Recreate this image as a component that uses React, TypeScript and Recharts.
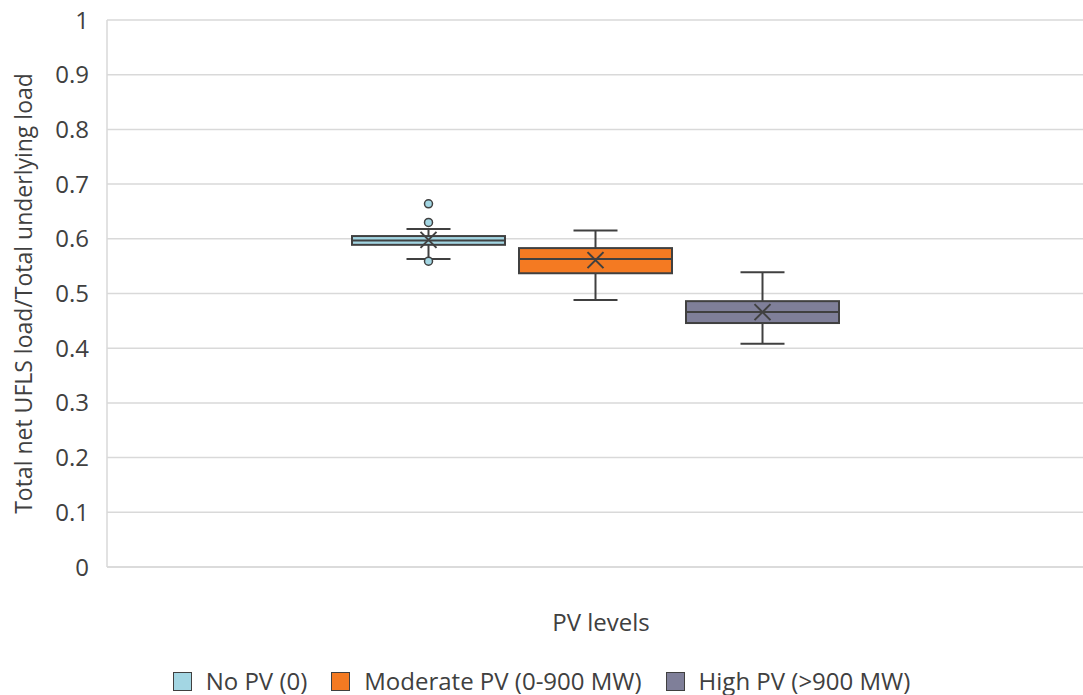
import React from "react";
import { ComposedChart, Bar, XAxis, YAxis, CartesianGrid, Legend } from "recharts";

const FONT = "'Open Sans', 'Noto Sans', sans-serif";
const TEXT = "#404040";
const EDGE = "#404040";
const GRID = "#d9d9d9";

// box plot stats per series
const seriesNames = ["No PV (0)", "Moderate PV (0-900 MW)", "High PV (>900 MW)"];
const seriesColors = ["#a3d6e3", "#f47a22", "#7f7f99"];
const whiskerLow = [0.563, 0.488, 0.408];
const q1 = [0.589, 0.537, 0.446];
const median = [0.597, 0.563, 0.466];
const q3 = [0.605, 0.583, 0.486];
const whiskerHigh = [0.618, 0.615, 0.539];
const means = [0.598, 0.561, 0.466];
const outliers: number[][] = [[0.664, 0.630, 0.559], [], []];
const yTicks = [0, 0.1, 0.2, 0.3, 0.4, 0.5, 0.6, 0.7, 0.8, 0.9, 1];

const keys = seriesNames.map((_, i) => `s${i}`);
const data = [
  keys.reduce<Record<string, any>>(
    (row, k, i) => {
      row[k] = [whiskerLow[i], whiskerHigh[i]];
      return row;
    },
    { name: "" }
  ),
];

function boxShape(i: number) {
  return (props: any) => {
    const { x, y, width, height } = props;
    const top = Math.min(y, y + height);
    const h = Math.abs(height);
    const lo = whiskerLow[i];
    const hi = whiskerHigh[i];
    // map values through the bar's own pixel range
    const toY = (v: number) => top + (h * (hi - v)) / (hi - lo);
    const cx = x + width / 2;
    const cap = 22;
    const m = 8;
    const my = toY(means[i]);
    return (
      <g>
        <line x1={cx} x2={cx} y1={toY(hi)} y2={toY(lo)} stroke={EDGE} strokeWidth={2} />
        <line x1={cx - cap} x2={cx + cap} y1={toY(hi)} y2={toY(hi)} stroke={EDGE} strokeWidth={2} />
        <line x1={cx - cap} x2={cx + cap} y1={toY(lo)} y2={toY(lo)} stroke={EDGE} strokeWidth={2} />
        <rect
          x={x}
          y={toY(q3[i])}
          width={width}
          height={toY(q1[i]) - toY(q3[i])}
          fill={seriesColors[i]}
          stroke={EDGE}
          strokeWidth={2}
        />
        <line x1={x} x2={x + width} y1={toY(median[i])} y2={toY(median[i])} stroke={EDGE} strokeWidth={2} />
        <line x1={cx - m} x2={cx + m} y1={my - m} y2={my + m} stroke={EDGE} strokeWidth={2} />
        <line x1={cx - m} x2={cx + m} y1={my + m} y2={my - m} stroke={EDGE} strokeWidth={2} />
        {outliers[i].map((v, j) => (
          <circle key={j} cx={cx} cy={toY(v)} r={4} fill={seriesColors[i]} stroke={EDGE} strokeWidth={1.5} />
        ))}
      </g>
    );
  };
}

function LegendBox() {
  return (
    <div
      style={{
        display: "flex",
        justifyContent: "center",
        alignItems: "center",
        height: 28,
        lineHeight: 1,
        fontFamily: FONT,
        fontSize: 24,
        color: TEXT,
        gap: 24,
      }}
    >
      {seriesNames.map((n, i) => (
        <div key={n} style={{ display: "flex", alignItems: "center", gap: 14 }}>
          <span
            style={{
              display: "inline-block",
              width: 17,
              height: 17,
              background: seriesColors[i],
              border: `1.5px solid ${EDGE}`,
            }}
          />
          <span>{n}</span>
        </div>
      ))}
    </div>
  );
}

const YTitle = (props: any) => {
  const { viewBox } = props;
  const cy = viewBox.y + viewBox.height / 2;
  return (
    <text
      x={23}
      y={cy}
      transform={`rotate(-90, 23, ${cy})`}
      textAnchor="middle"
      dominantBaseline="central"
      fill={TEXT}
      fontSize={23}
      fontFamily={FONT}
    >
      Total net UFLS load/Total underlying load
    </text>
  );
};

const XTitle = (props: any) => {
  const { viewBox } = props;
  return (
    <text
      x={viewBox.x + viewBox.width / 2 + 6}
      y={viewBox.y + 54}
      textAnchor="middle"
      dominantBaseline="central"
      fill={TEXT}
      fontSize={24}
      fontFamily={FONT}
    >
      PV levels
    </text>
  );
};

export default function App() {
  return (
    <div style={{ position: "absolute", left: 0, top: 0, width: 1083, height: 695, background: "#fff" }}>
      <ComposedChart
        width={1083}
        height={695}
        data={data}
        margin={{ top: 20, right: 0, bottom: 0, left: 0 }}
        barSize={153}
        barGap={14}
      >
        <CartesianGrid vertical={false} stroke={GRID} strokeWidth={1.5} />
        <XAxis
          dataKey="name"
          height={100}
          tick={false}
          tickLine={false}
          axisLine={{ stroke: GRID, strokeWidth: 1.5 }}
          label={<XTitle />}
        />
        <YAxis
          width={107}
          domain={[0, 1]}
          ticks={yTicks}
          tickFormatter={(v: number) => String(v)}
          tickLine={false}
          tickSize={0}
          tickMargin={18}
          axisLine={{ stroke: GRID, strokeWidth: 1.5 }}
          tick={{ fill: TEXT, fontSize: 24, fontFamily: FONT }}
          label={<YTitle />}
        />
        <Legend verticalAlign="bottom" content={<LegendBox />} />
        {keys.map((k, i) => (
          <Bar key={k} dataKey={k} isAnimationActive={false} shape={boxShape(i)} />
        ))}
      </ComposedChart>
    </div>
  );
}
